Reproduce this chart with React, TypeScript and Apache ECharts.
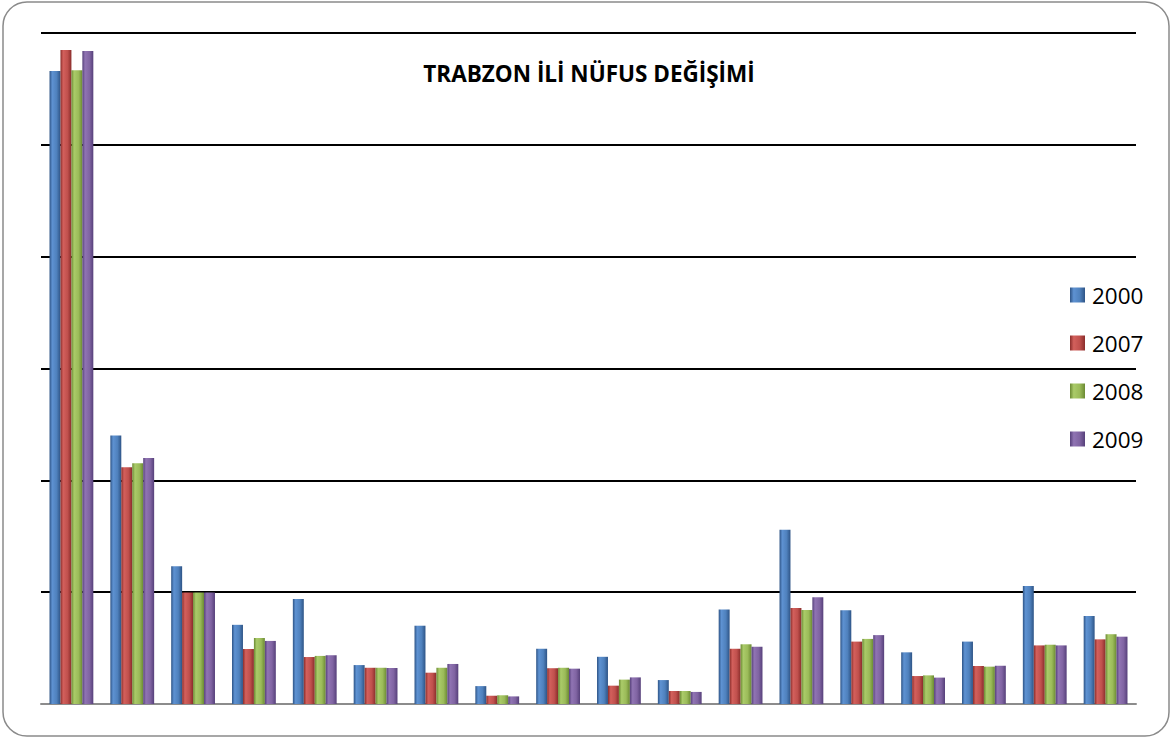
import React, { useEffect, useRef } from "react";
import * as echarts from "echarts";

const categories = [
  "Merkez", "Akçaabat", "Araklı", "Arsin", "Beşikdüzü", "Çarşıbaşı",
  "Çaykara", "Dernekpazarı", "Düzköy", "Hayrat", "Köprübaşı", "Maçka",
  "Of", "Şalpazarı", "Sürmene", "Tonya", "Vakfıkebir", "Yomra",
];
const seriesNames = ["2000", "2007", "2008", "2009"];
const values2000 = [283000, 120100, 61600, 35400, 46900, 17400, 35000, 8000, 24700, 21100, 10700, 42200, 77900, 41900, 23100, 27900, 52800, 39300];
const values2007 = [292400, 105800, 49800, 24600, 21000, 16200, 14000, 3700, 16000, 8200, 5800, 24700, 42900, 27900, 12500, 17000, 26200, 28900];
const values2008 = [283300, 107600, 49800, 29500, 21500, 16200, 16200, 3900, 16200, 10900, 5800, 26700, 42000, 29100, 12800, 16700, 26500, 31200];
const values2009 = [292000, 110000, 49800, 28200, 21800, 16100, 17900, 3400, 15800, 11900, 5400, 25600, 47700, 30800, 11800, 17100, 26200, 30100];
const yTicks = [0, 50000, 100000, 150000, 200000, 250000, 300000];
const titleText = "TRABZON İLİ NÜFUS DEĞİŞİMİ";

const palette = [
  { base: "#4F81BD", dark: "#2E5486", light: "#5E92D2" },
  { base: "#C0504D", dark: "#8A2D2B", light: "#D3605C" },
  { base: "#9BBB59", dark: "#6B8A33", light: "#AACB69" },
  { base: "#8064A2", dark: "#56407A", light: "#9074B3" },
];

function grad(p: { base: string; dark: string; light: string }) {
  return new echarts.graphic.LinearGradient(0, 0, 1, 0, [
    { offset: 0, color: p.dark },
    { offset: 0.25, color: p.light },
    { offset: 0.65, color: p.base },
    { offset: 1, color: p.dark },
  ]);
}

export default function App() {
  const ref = useRef<HTMLDivElement>(null);
  useEffect(() => {
    document.body.style.margin = "0";
    if (!ref.current) return;
    const chart = echarts.init(ref.current, undefined, { renderer: "svg" });
    const data = [values2000, values2007, values2008, values2009];
    chart.setOption({
      animation: false,
      backgroundColor: "#ffffff",
      title: {
        text: titleText,
        left: 584,
        top: 57,
        textAlign: "center",
        textStyle: {
          fontFamily: "Open Sans",
          fontWeight: "bold",
          fontSize: 22.5,
          color: "#000",
        },
      },
      legend: {
        orient: "vertical",
        left: 1070,
        top: 282,
        padding: 0,
        itemWidth: 15,
        itemHeight: 15,
        itemGap: 22,
        icon: "rect",
        data: seriesNames,
        textStyle: {
          fontFamily: "Open Sans",
          fontSize: 22.5,
          color: "#000",
          lineHeight: 26,
          padding: [0, 0, 0, 2],
        },
      },
      grid: { left: 41, right: 36, top: 33, bottom: 36, containLabel: false },
      xAxis: {
        type: "category",
        data: categories,
        axisLine: { show: true, lineStyle: { color: "#8c8c8c", width: 2 } },
        axisTick: { show: false },
        axisLabel: { show: false },
      },
      yAxis: {
        type: "value",
        min: yTicks[0],
        max: yTicks[yTicks.length - 1],
        interval: yTicks[1] - yTicks[0],
        axisLine: { show: false },
        axisTick: { show: false },
        axisLabel: { show: false },
        splitLine: {
          show: true,
          lineStyle: { color: ["#8c8c8c", "#000", "#000", "#000", "#000", "#000", "#000"], width: 2 },
        },
      },
      series: seriesNames.map((name, i) => ({
        name,
        type: "bar",
        data: data[i],
        barGap: "0%",
        barCategoryGap: "28%",
        itemStyle: { color: grad(palette[i]) },
        z: 3,
      })),
      color: palette.map((p) => p.base),
      graphic: [
        {
          type: "rect",
          shape: { x: 3, y: 2, width: 1166, height: 734, r: 24 },
          style: { fill: "none", stroke: "#8a8a8a", lineWidth: 1.5 },
          z: 100,
        },
      ],
    });
    return () => chart.dispose();
  }, []);
  return <div ref={ref} style={{ width: 1172, height: 740 }} />;
}
